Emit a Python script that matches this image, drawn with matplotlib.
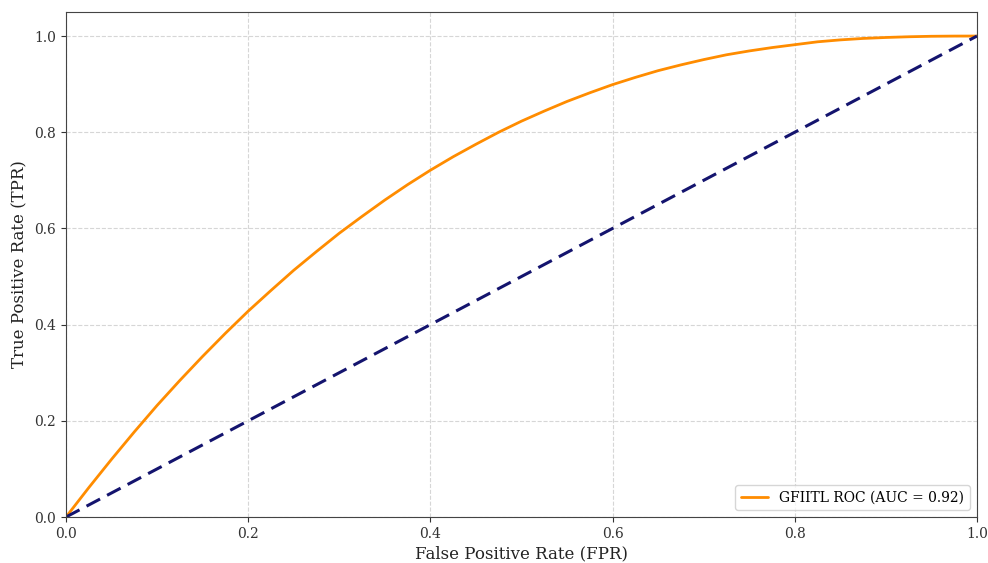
import matplotlib
matplotlib.use("Agg")
import matplotlib.pyplot as plt

fpr = [0.0, 0.025, 0.05, 0.075, 0.10, 0.125, 0.15, 0.175, 0.20, 0.225, 0.25,
       0.275, 0.30, 0.325, 0.35, 0.375, 0.40, 0.425, 0.45, 0.475, 0.50,
       0.525, 0.55, 0.575, 0.60, 0.625, 0.65, 0.675, 0.70, 0.725, 0.75,
       0.775, 0.80, 0.825, 0.85, 0.875, 0.90, 0.925, 0.95, 0.975, 1.0]
tpr = [0.0, 0.061, 0.120, 0.177, 0.232, 0.284, 0.334, 0.382, 0.428, 0.471, 0.513,
       0.552, 0.590, 0.625, 0.659, 0.691, 0.721, 0.749, 0.775, 0.800, 0.823,
       0.844, 0.864, 0.882, 0.899, 0.914, 0.928, 0.940, 0.951, 0.961, 0.969,
       0.976, 0.982, 0.988, 0.992, 0.995, 0.997, 0.9985, 0.9995, 0.9999, 1.0]
chance_x = [0.0, 1.0]
chance_y = [0.0, 1.0]
label = "GFIITL ROC (AUC = 0.92)"

plt.rcParams['font.family'] = ['DejaVu Serif']

fig = plt.figure(figsize=(9.88, 5.63), dpi=100)
ax = fig.add_axes([0.0668, 0.0817, 0.922, 0.897])

ax.plot(fpr, tpr, color='darkorange', lw=2, label=label, solid_capstyle='round')
ax.plot(chance_x, chance_y, color='#14146e', lw=2.2, linestyle=(0, (5, 2.6)))

ax.set_xlim(0, 1)
ax.set_ylim(0, 1.05)
ax.set_xticks([0.0, 0.2, 0.4, 0.6, 0.8, 1.0])
ax.set_yticks([0.0, 0.2, 0.4, 0.6, 0.8, 1.0])
ax.tick_params(labelsize=10, colors='#333333')
ax.grid(True, linestyle='--', color='#cccccc', alpha=0.8, lw=0.8)
for s in ax.spines.values():
    s.set_color('#444444')

ax.set_xlabel('False Positive Rate (FPR)', fontsize=12, color='#222222', labelpad=3)
ax.set_ylabel('True Positive Rate (TPR)', fontsize=12, color='#222222')
ax.legend(loc='lower right', fontsize=10)

fig.savefig('out.png', dpi=100)
